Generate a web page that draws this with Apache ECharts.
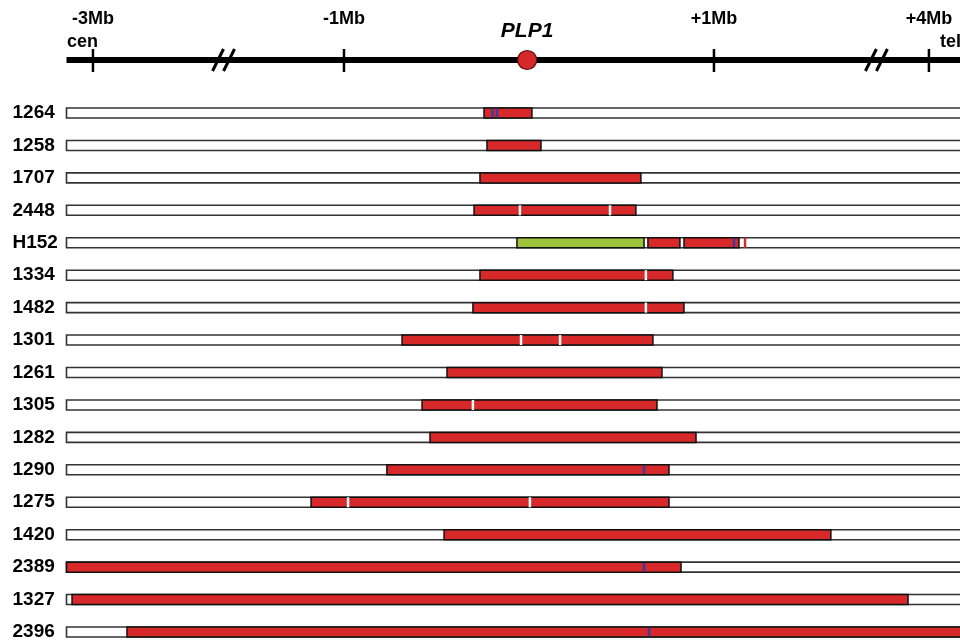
<!DOCTYPE html>
<html>
<head>
<meta charset="utf-8">
<script src="https://cdn.jsdelivr.net/npm/echarts@6/dist/echarts.min.js"></script>
<style>
html,body{margin:0;padding:0;background:#fff;}
#chart{width:960px;height:642px;}
</style>
</head>
<body>
<div id="chart"></div>
<script>
// ---- DATA (x positions in Mb relative to PLP1 on the schematic, central region linear) ----
const rows = ['1264','1258','1707','2448','H152','1334','1482','1301','1261','1305','1282','1290','1275','1420','2389','1327','2396'];
const trackStart = -2.5;
const trackEnd = 2.4;
// duplications: [row, start, end]
const redSegments = [
  ['1264', -0.243, 0.016],
  ['1258', -0.227, 0.065],
  ['1707', -0.265, 0.605],
  ['2448', -0.297, 0.578],
  ['H152', 0.643, 0.816],
  ['H152', 0.838, 1.135],
  ['1334', -0.265, 0.778],
  ['1482', -0.303, 0.838],
  ['1301', -0.686, 0.670],
  ['1261', -0.443, 0.719],
  ['1305', -0.578, 0.692],
  ['1282', -0.535, 0.903],
  ['1290', -0.768, 0.757],
  ['1275', -1.178, 0.757],
  ['1420', -0.459, 1.632],
  ['2389', -2.5, 0.822],
  ['1327', -2.470, 2.049],
  ['2396', -2.173, 2.4]
];
const greenSegments = [
  ['H152', -0.065, 0.622]
];
const gapMarks = [
  ['2448', -0.049], ['2448', 0.438],
  ['1334', 0.632], ['1482', 0.632],
  ['1301', -0.043], ['1301', 0.168],
  ['1305', -0.303],
  ['1275', -0.978], ['1275', 0.005]
];
const blueMarks = [
  ['1264', -0.197], ['1264', -0.173],
  ['H152', 1.108],
  ['1290', 0.622], ['2389', 0.622], ['2396', 0.649]
];
const redMarks = [
  ['H152', 1.168]
];
// top schematic axis
const axisTicks = [-2.357, -1, 1, 2.162];
const axisTickLabels = ['-3Mb', '-1Mb', '+1Mb', '+4Mb'];
const endLabels = [['cen', -2.497], ['tel', 2.222]];
const breakPositions = [-1.651, 1.878];
const geneName = 'PLP1';
const genePos = -0.01;
const xMin = -2.5, xMax = 2.33;

// ---- CHART ----
const RED = '#d7282a', GREEN = '#9dc43a', BLUE = '#3a3c9c';
const FONT = '"Liberation Sans", Arial, sans-serif';
const BAR_H = 10;
const chart = echarts.init(document.getElementById('chart'), null, {renderer: 'canvas'});

const ri = r => rows.indexOf(r);
const segData = arr => arr.map(d => [d[1], d[2], ri(d[0])]);
const markData = arr => arr.map(d => [d[1], ri(d[0])]);

function segRenderer(fill, stroke, lw) {
  return function (params, api) {
    const row = api.value(2);
    const s = api.coord([api.value(0), row]);
    const e = api.coord([api.value(1), row]);
    const h = BAR_H;
    return {
      type: 'rect',
      shape: {x: s[0], y: s[1] - h / 2, width: e[0] - s[0], height: h},
      style: {fill: fill, stroke: stroke, lineWidth: lw}
    };
  };
}
function markRenderer(fill, w, shrink) {
  return function (params, api) {
    const p = api.coord([api.value(0), api.value(1)]);
    const h = BAR_H - shrink;
    return {
      type: 'rect',
      shape: {x: p[0] - w / 2, y: p[1] - h / 2, width: w, height: h},
      style: {fill: fill}
    };
  };
}

const AXIS_Y = 60;
const option = {
  animation: false,
  backgroundColor: '#fff',
  grid: [
    {left: 66.5, width: 893.5, top: 0, height: 90},
    {left: 66.5, width: 893.5, top: 113, height: 519}
  ],
  xAxis: [
    {gridIndex: 0, type: 'value', min: xMin, max: xMax, show: false},
    {gridIndex: 1, type: 'value', min: xMin, max: xMax, show: false}
  ],
  yAxis: [
    {gridIndex: 0, type: 'value', min: 0, max: 1, show: false},
    {
      gridIndex: 1, type: 'category', data: rows, inverse: true, boundaryGap: false,
      axisLine: {show: false}, axisTick: {show: false}, splitLine: {show: false},
      axisLabel: {align: 'left', margin: 54, fontWeight: 'bold', fontSize: 19, fontFamily: FONT, color: '#000', interval: 0}
    }
  ],
  series: [
    // top axis line
    {
      type: 'custom', xAxisIndex: 0, yAxisIndex: 0, clip: false,
      data: [[xMin, xMax]],
      renderItem: function (params, api) {
        const y = params.coordSys.y + AXIS_Y;
        const a = api.coord([api.value(0), 0])[0];
        const b = api.coord([api.value(1), 0])[0];
        return {type: 'line', shape: {x1: a, y1: y, x2: b, y2: y}, style: {stroke: '#000', lineWidth: 6}};
      }
    },
    // ticks + labels
    {
      type: 'custom', xAxisIndex: 0, yAxisIndex: 0, clip: false,
      data: axisTicks.map((v, i) => [v, i]),
      renderItem: function (params, api) {
        const y = params.coordSys.y + AXIS_Y;
        const x = api.coord([api.value(0), 0])[0];
        return {
          type: 'group',
          children: [
            {type: 'line', shape: {x1: x, y1: y - 11, x2: x, y2: y + 12}, style: {stroke: '#000', lineWidth: 2.5}},
            {type: 'text', x: x, y: params.coordSys.y + 19,
              style: {text: axisTickLabels[api.value(1)], fill: '#000', font: 'bold 18px ' + FONT, align: 'center', verticalAlign: 'middle'}}
          ]
        };
      }
    },
    // cen / tel labels
    {
      type: 'custom', xAxisIndex: 0, yAxisIndex: 0, clip: false,
      data: endLabels.map((d, i) => [d[1], i]),
      renderItem: function (params, api) {
        const x = api.coord([api.value(0), 0])[0];
        return {type: 'text', x: x, y: params.coordSys.y + 42,
          style: {text: endLabels[api.value(1)][0], fill: '#000', font: 'bold 18px ' + FONT, align: 'left', verticalAlign: 'middle'}};
      }
    },
    // break marks
    {
      type: 'custom', xAxisIndex: 0, yAxisIndex: 0, clip: false,
      data: breakPositions.map(v => [v]),
      renderItem: function (params, api) {
        const y = params.coordSys.y + AXIS_Y;
        const x = api.coord([api.value(0), 0])[0];
        const mk = dx => ({type: 'line', shape: {x1: x + dx - 5.5, y1: y + 11, x2: x + dx + 5.5, y2: y - 11},
          style: {stroke: '#000', lineWidth: 3}});
        return {type: 'group', children: [mk(-5.5), mk(5.5)]};
      }
    },
    // gene marker
    {
      type: 'custom', xAxisIndex: 0, yAxisIndex: 0, clip: false,
      data: [[genePos]],
      renderItem: function (params, api) {
        const y = params.coordSys.y + AXIS_Y;
        const x = api.coord([api.value(0), 0])[0];
        return {
          type: 'group',
          children: [
            {type: 'circle', shape: {cx: x, cy: y, r: 9.5}, style: {fill: RED, stroke: '#5a1010', lineWidth: 1.2}},
            {type: 'text', x: x, y: params.coordSys.y + 31,
              style: {text: geneName, fill: '#000', font: 'italic bold 21px ' + FONT, align: 'center', verticalAlign: 'middle'}}
          ]
        };
      }
    },
    // background tracks
    {
      type: 'custom', xAxisIndex: 1, yAxisIndex: 1, clip: false,
      data: rows.map((r, i) => [trackStart, trackEnd, i]),
      renderItem: segRenderer('#fff', '#333', 1.6)
    },
    // green segment
    {
      type: 'custom', xAxisIndex: 1, yAxisIndex: 1, clip: false,
      data: segData(greenSegments),
      renderItem: segRenderer(GREEN, '#111', 1.5)
    },
    // red segments
    {
      type: 'custom', xAxisIndex: 1, yAxisIndex: 1, clip: false,
      data: segData(redSegments),
      renderItem: segRenderer(RED, '#111', 1.5)
    },
    // white gaps
    {
      type: 'custom', xAxisIndex: 1, yAxisIndex: 1, clip: false,
      data: markData(gapMarks),
      renderItem: markRenderer('#fff', 2.5, 0)
    },
    // blue marks
    {
      type: 'custom', xAxisIndex: 1, yAxisIndex: 1, clip: false,
      data: markData(blueMarks),
      renderItem: markRenderer(BLUE, 2.5, 1.5)
    },
    // red marks
    {
      type: 'custom', xAxisIndex: 1, yAxisIndex: 1, clip: false,
      data: markData(redMarks),
      renderItem: markRenderer(RED, 2.5, 0)
    }
  ]
};
chart.setOption(option);
</script>
</body>
</html>
